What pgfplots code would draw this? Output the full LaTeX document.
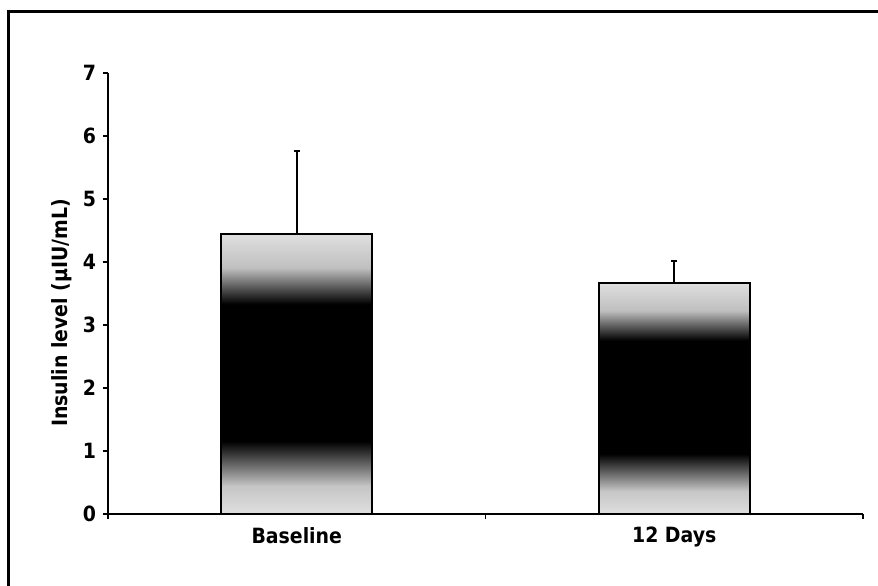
\documentclass[border=0pt]{standalone}
\usepackage{pgfplots}
\pgfplotsset{compat=1.18}
\usepackage{fontspec}
\setmainfont{DejaVu Sans Condensed}
% grey speckle -> black core -> grey speckle, bottom to top
\pgfdeclareverticalshading{barshade}{100bp}{color(0bp)=(gray!25); color(25bp)=(gray!25); color(30bp)=(gray!45); color(38bp)=(black); color(62.5bp)=(black); color(69bp)=(gray!50); color(75bp)=(gray!25); color(100bp)=(gray!25)}
\begin{document}
\begin{tikzpicture}
\useasboundingbox (-54pt,-35.5pt) rectangle (385pt,257pt);
\draw[line width=1.5pt] (-49.5pt,-60pt) -- (-49.5pt,251pt) -- (400pt,251pt);
\begin{axis}[
    at={(0pt,0pt)}, anchor=south west,
    scale only axis, width=377.5pt, height=220.5pt,
    xmin=0, xmax=2, ymin=0, ymax=7,
    axis x line*=bottom, axis y line*=left,
    axis line style={line width=1pt},
    xtick={0,1,2}, xticklabels={},
    extra x ticks={0.5,1.5}, extra x tick labels={Baseline,12 Days},
    extra x tick style={major tick length=0pt, xticklabel style={yshift=-3pt}},
    ytick={0,1,...,7},
    tick align=outside, major tick length=2.5pt,
    tick style={line width=0.8pt, black},
    /pgf/number format/assume math mode=true,
    tick label style={font=\fontsize{10.5}{12}\selectfont\bfseries},
    label style={font=\fontsize{10.5}{12}\selectfont\bfseries},
    ylabel={Insulin level (µIU/mL)},
    ylabel style={at={(axis description cs:-0.061,0.456)}, anchor=center},
  ]
  % one plot per bar so each bar gets its own shading box
  \addplot[ybar, bar width=0.4, draw=black, line width=1pt, shade, shading=barshade]
    coordinates {(0.5,4.44)};
  \addplot[ybar, bar width=0.4, draw=black, line width=1pt, shade, shading=barshade]
    coordinates {(1.5,3.67)};
  \addplot[draw=none, mark=none,
    error bars/.cd, y dir=plus, y explicit,
    error bar style={draw=black, line width=1pt},
    error mark options={rotate=90, draw=black, line width=1pt, mark size=1.5pt}]
    coordinates {(0.5,4.44) +- (0,1.32) (1.5,3.67) +- (0,0.35)};
\end{axis}
\end{tikzpicture}
\end{document}
